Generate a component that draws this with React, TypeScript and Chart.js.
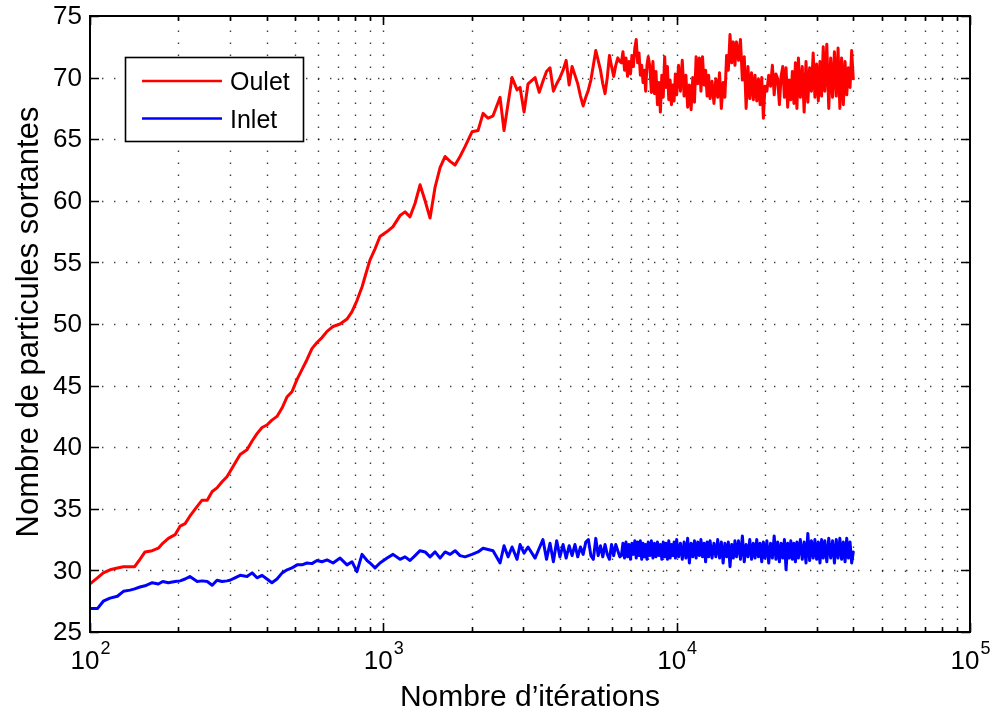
import React, { useEffect, useRef } from 'react';
import { Chart, registerables } from 'chart.js';

Chart.register(...registerables);

// ---------- data ----------
const iterations = [
  // 100 .. 3300
  100, 106, 111, 117, 124, 130, 137, 142, 148, 154,
  163, 171, 177, 185, 195, 203, 211, 219, 232, 241,
  251, 261, 271, 282, 293, 300, 312, 325, 343, 357,
  371, 386, 401, 417, 434, 452, 470, 488, 508, 528,
  549, 571, 594, 618, 643, 674, 712, 752, 782, 813,
  846, 880, 901, 937, 974, 1030, 1079, 1140, 1186, 1233,
  1283, 1334, 1388, 1443, 1501, 1561, 1624, 1689, 1756, 1826,
  1899, 2006, 2103, 2188, 2275, 2366, 2500, 2579, 2662, 2747,
  2857, 2925, 3018, 3114, 3291,
  // 3400 .. 6400
  3400, 3500, 3600, 3700, 3800, 3900, 4000, 4100, 4200, 4300,
  4400, 4500, 4600, 4700, 4800, 4900, 5000, 5100, 5200, 5300,
  5400, 5500, 5600, 5700, 5800, 5900, 6000, 6100, 6200, 6300, 6400,
  // 6480 .. 8000
  6480, 6560, 6640, 6720, 6800, 6880, 6960, 7040, 7120, 7200,
  7280, 7360, 7440, 7520, 7600, 7680, 7760, 7840, 7920, 8000,
  // 8100 .. 10000
  8100, 8200, 8300, 8400, 8500, 8600, 8700, 8800, 8900, 9000,
  9100, 9200, 9300, 9400, 9500, 9600, 9700, 9800, 9900, 10000,
  // 10150 .. 13000
  10150, 10300, 10450, 10600, 10750, 10900, 11050, 11200, 11350, 11500,
  11650, 11800, 11950, 12100, 12250, 12400, 12550, 12700, 12850, 13000,
  // 13200 .. 16000
  13200, 13400, 13600, 13800, 14000, 14200, 14400, 14600, 14800, 15000,
  15200, 15400, 15600, 15800, 16000,
  // 16250 .. 20000
  16250, 16500, 16750, 17000, 17250, 17500, 17750, 18000, 18250, 18500,
  18750, 19000, 19250, 19500, 19750, 20000,
  // 20300 .. 26000
  20300, 20600, 20900, 21200, 21500, 21800, 22100, 22400, 22700, 23000,
  23300, 23600, 23900, 24200, 24500, 24800, 25100, 25400, 25700, 26000,
  // 26400 .. 32000
  26400, 26800, 27200, 27600, 28000, 28400, 28800, 29200, 29600, 30000,
  30400, 30800, 31200, 31600, 32000,
  // 32500 .. 40000
  32500, 33000, 33500, 34000, 34500, 35000, 35500, 36000, 36500, 37000,
  37500, 38000, 38500, 39000, 39500, 40000,
];

const outletValues = [
  28.9, 29.4, 29.8, 30.05, 30.2, 30.3, 30.3, 30.3, 30.9, 31.5,
  31.6, 31.8, 32.2, 32.6, 32.9, 33.6, 33.8, 34.4, 35.2, 35.7,
  35.7, 36.4, 36.7, 37.2, 37.6, 38.0, 38.7, 39.4, 39.8, 40.5,
  41.1, 41.6, 41.8, 42.2, 42.5, 43.2, 44.1, 44.5, 45.5, 46.3,
  47.1, 48.0, 48.5, 48.9, 49.4, 49.8, 50.0, 50.4, 51.0, 51.9,
  53.0, 54.4, 55.2, 56.1, 57.1, 57.5, 57.9, 58.8, 59.1, 58.7,
  59.8, 61.3, 60.0, 58.6, 61.1, 62.7, 63.6, 63.2, 62.9, 63.6,
  64.4, 65.6, 65.7, 67.1, 66.7, 66.9, 68.4, 65.7, 67.9, 70.0,
  69.0, 69.2, 67.2, 69.5, 70.0,
  68.8, 69.7, 70.5, 70.8, 68.9, 69.5, 70.0, 70.6, 71.4, 69.4,
  70.9, 70.2, 69.5, 68.5, 67.7, 68.4, 69.0, 69.8, 71.0, 72.2,
  71.4, 70.6, 69.5, 68.7, 70.0, 71.8, 70.9, 70.1, 71.0, 71.6, 71.3,
  71.2, 72.1, 70.6, 71.6, 70.1, 71.3, 70.3, 71.8, 70.9, 72.4,
  73.1, 71.2, 72.0, 70.2, 71.0, 69.6, 70.6, 68.9, 71.0, 71.7,
  70.9, 68.8, 71.3, 68.7, 70.5, 67.8, 69.6, 67.2, 70.2, 68.4,
  71.7, 69.2, 70.9, 68.2, 69.8, 67.8, 69.4, 68.1, 70.3, 68.6,
  71.0, 68.9, 71.4, 68.5, 70.2, 67.6, 69.4, 67.4, 70.0, 68.0,
  71.7, 69.5, 71.6, 68.9, 71.7, 69.4, 70.6, 68.5, 70.2, 68.3,
  69.7, 67.9, 69.9, 68.4, 70.4, 67.5, 69.6, 68.4, 71.8, 70.6,
  73.5, 71.2, 72.9, 71.0, 72.9,
  71.4, 73.1, 69.8, 71.7, 67.5, 70.9, 68.3, 70.4, 68.2, 70.2,
  68.1, 69.9, 67.8, 70.0, 66.7, 69.3,
  68.9, 70.2, 69.3, 71.0, 68.6, 70.3, 69.9, 67.8, 70.1, 70.9,
  68.4, 70.8, 67.6, 69.8, 68.2, 70.5, 67.9, 71.2, 67.5, 71.6,
  68.4, 70.9, 67.2, 71.3, 68.0, 70.8, 68.9, 72.0, 68.4, 71.1,
  68.1, 71.3, 68.5, 72.5, 68.9,
  72.7, 67.5, 71.6, 68.4, 72.1, 68.5, 72.4, 67.5, 71.6, 67.8,
  71.3, 68.6, 70.8, 69.2, 72.2, 69.9,
];

const inletValues = [
  26.9, 26.9, 27.5, 27.75, 27.9, 28.3, 28.4, 28.5, 28.65, 28.75,
  29.0, 28.9, 29.1, 29.0, 29.1, 29.15, 29.3, 29.5, 29.1, 29.15,
  29.1, 28.8, 29.2, 29.1, 29.15, 29.2, 29.4, 29.6, 29.5, 29.8,
  29.4, 29.6, 29.3, 29.0, 29.3, 29.8, 30.05, 30.2, 30.45, 30.45,
  30.6, 30.55, 30.8, 30.7, 30.85, 30.6, 31.0, 30.45, 30.7, 29.9,
  31.3, 30.8, 30.6, 30.2, 30.6, 31.0, 31.3, 30.9, 31.1, 30.8,
  31.2, 31.6, 31.5, 31.1, 31.5, 31.0, 31.5, 31.3, 31.6, 31.2,
  31.1, 31.3, 31.5, 31.8, 31.7, 31.6, 30.6, 32.0, 31.1, 31.9,
  30.9, 32.1, 31.4, 31.9, 31.0,
  31.8, 32.5, 30.9, 32.2, 30.7, 32.4, 31.1, 32.1, 31.0, 32.0,
  31.2, 32.1, 31.1, 31.9, 31.3, 32.3, 32.5, 31.2, 30.9, 32.6,
  31.2, 32.0, 31.1, 32.1, 31.3, 30.9, 32.1, 31.2, 32.1, 31.6, 31.1,
  31.2, 32.2, 31.0, 32.3, 31.1, 32.1, 30.9, 32.2, 31.3, 32.4,
  31.0, 32.3, 31.2, 32.4, 30.9, 32.2, 31.1, 32.1, 30.9, 32.3,
  31.2, 32.4, 31.0, 32.2, 31.1, 32.3, 31.2, 32.1, 30.9, 32.3,
  31.1, 32.2, 30.9, 32.4, 31.0, 32.1, 31.2, 32.3, 31.0, 32.5,
  31.1, 32.2, 30.9, 32.3, 31.0, 32.6, 30.6, 32.2, 31.1, 32.4,
  31.0, 32.3, 31.2, 32.5, 31.1, 32.2, 30.7, 32.3, 31.1, 32.4,
  31.0, 32.2, 31.1, 32.5, 31.0, 32.3, 30.6, 32.2, 31.1, 32.3,
  30.3, 32.1, 31.0, 32.4, 31.1,
  32.4, 30.9, 32.8, 30.7, 32.1, 31.1, 32.5, 30.9, 32.2, 31.0,
  32.5, 31.1, 32.2, 30.7, 32.3, 31.0,
  32.4, 30.6, 32.2, 31.0, 32.8, 30.9, 32.3, 30.7, 32.2, 31.0,
  32.5, 30.05, 32.2, 31.0, 32.4, 30.9, 32.2, 30.7, 32.3, 31.0,
  32.5, 30.9, 32.3, 30.6, 33.0, 30.8, 32.4, 31.0, 32.5, 30.9,
  32.3, 30.6, 32.5, 31.0, 32.4,
  30.7, 32.6, 31.0, 32.4, 30.6, 32.5, 31.0, 32.6, 30.9, 32.3,
  30.7, 32.6, 31.0, 32.3, 30.6, 31.5,
];

const seriesLabels = ['Oulet', 'Inlet'];
const seriesColors = ['#ff0000', '#0000ff'];
const xDecades = [100, 1000, 10000, 100000];
const xExponents = ['2', '3', '4', '5'];
const xMinorMultipliers = [2, 3, 4, 5, 6, 7, 8, 9];
const yTicks = [25, 30, 35, 40, 45, 50, 55, 60, 65, 70, 75];
const xTitle = 'Nombre d\u2019itérations';
const yTitle = 'Nombre de particules sortantes';

const FONT = '"Liberation Sans", Arial, Helvetica, sans-serif';

const matlabAxes = {
  id: 'matlabAxes',
  beforeDatasetsDraw(chart: any) {
    const { ctx, chartArea: a, scales } = chart;
    const x = scales.x;
    const y = scales.y;
    ctx.save();
    ctx.strokeStyle = 'rgba(0,0,0,0.75)';
    ctx.lineWidth = 1.4;
    ctx.setLineDash([1.4, 10.6]);
    const gridX: number[] = [];
    for (let i = 0; i < xDecades.length - 1; i++) {
      if (i > 0) gridX.push(xDecades[i]);
      for (const m of xMinorMultipliers) gridX.push(xDecades[i] * m);
    }
    for (const v of gridX) {
      const px = Math.round(x.getPixelForValue(v)) + 0.5;
      ctx.beginPath();
      ctx.moveTo(px, a.bottom);
      ctx.lineTo(px, a.top);
      ctx.stroke();
    }
    for (const v of yTicks) {
      if (v === yTicks[0] || v === yTicks[yTicks.length - 1]) continue;
      const py = Math.round(y.getPixelForValue(v)) + 0.5;
      ctx.beginPath();
      ctx.moveTo(a.left, py);
      ctx.lineTo(a.right, py);
      ctx.stroke();
    }
    ctx.restore();
  },
  afterDatasetsDraw(chart: any) {
    const { ctx, chartArea: a, scales } = chart;
    const x = scales.x;
    const y = scales.y;
    ctx.save();
    ctx.setLineDash([]);
    ctx.strokeStyle = '#000';
    ctx.lineWidth = 1.6;
    const major = 9;
    const minor = 5;
    ctx.beginPath();
    for (let i = 0; i < xDecades.length; i++) {
      const px = Math.round(x.getPixelForValue(xDecades[i])) + 0.5;
      ctx.moveTo(px, a.bottom); ctx.lineTo(px, a.bottom - major);
      ctx.moveTo(px, a.top); ctx.lineTo(px, a.top + major);
      if (i < xDecades.length - 1) {
        for (const m of xMinorMultipliers) {
          const pm = Math.round(x.getPixelForValue(xDecades[i] * m)) + 0.5;
          ctx.moveTo(pm, a.bottom); ctx.lineTo(pm, a.bottom - minor);
          ctx.moveTo(pm, a.top); ctx.lineTo(pm, a.top + minor);
        }
      }
    }
    for (const v of yTicks) {
      const py = Math.round(y.getPixelForValue(v)) + 0.5;
      ctx.moveTo(a.left, py); ctx.lineTo(a.left + major, py);
      ctx.moveTo(a.right, py); ctx.lineTo(a.right - major, py);
    }
    ctx.stroke();
    ctx.lineWidth = 2;
    ctx.strokeRect(a.left, a.top, a.right - a.left, a.bottom - a.top);

    ctx.fillStyle = '#000';
    ctx.font = `26px ${FONT}`;
    ctx.textAlign = 'right';
    ctx.textBaseline = 'middle';
    for (const v of yTicks) {
      ctx.fillText(String(v), a.left - 8, y.getPixelForValue(v) + 1);
    }
    ctx.textAlign = 'left';
    ctx.textBaseline = 'alphabetic';
    for (let i = 0; i < xDecades.length; i++) {
      const px = x.getPixelForValue(xDecades[i]);
      ctx.font = `26px ${FONT}`;
      const wBase = ctx.measureText('10').width;
      ctx.font = `18px ${FONT}`;
      const wExp = ctx.measureText(xExponents[i]).width;
      const start = px - (wBase + wExp) / 2;
      ctx.font = `26px ${FONT}`;
      ctx.fillText('10', start, 669);
      ctx.font = `18px ${FONT}`;
      ctx.fillText(xExponents[i], start + wBase + 1, 654);
    }

    ctx.font = `30px ${FONT}`;
    ctx.textAlign = 'center';
    ctx.fillText(xTitle, (a.left + a.right) / 2, 706);
    ctx.save();
    ctx.translate(38, (a.top + a.bottom) / 2 - 2);
    ctx.rotate(-Math.PI / 2);
    ctx.font = `31px ${FONT}`;
    ctx.fillText(yTitle, 0, 0);
    ctx.restore();

    const lx = a.left + 35;
    const ly = a.top + 41;
    const lw = 178;
    const lh = 84;
    ctx.fillStyle = '#fff';
    ctx.fillRect(lx, ly, lw, lh);
    ctx.strokeStyle = '#000';
    ctx.lineWidth = 1.6;
    ctx.strokeRect(lx + 0.5, ly + 0.5, lw, lh);
    ctx.font = `25px ${FONT}`;
    ctx.textAlign = 'left';
    ctx.textBaseline = 'alphabetic';
    for (let i = 0; i < seriesLabels.length; i++) {
      const yy = ly + 24 + i * 37.5;
      ctx.strokeStyle = seriesColors[i];
      ctx.lineWidth = 2.6;
      ctx.beginPath();
      ctx.moveTo(lx + 17, yy);
      ctx.lineTo(lx + 97, yy);
      ctx.stroke();
      ctx.fillStyle = '#000';
      ctx.fillText(seriesLabels[i], lx + 105, yy + 9);
    }
    ctx.restore();
  },
};

function toPoints(values: number[]) {
  const n = Math.min(values.length, iterations.length);
  const pts: { x: number; y: number }[] = [];
  for (let i = 0; i < n; i++) pts.push({ x: iterations[i], y: values[i] });
  return pts;
}

export default function App() {
  const canvasRef = useRef<HTMLCanvasElement | null>(null);

  useEffect(() => {
    const canvas = canvasRef.current;
    if (!canvas) return;
    const lineStyle = {
      borderWidth: 3,
      pointRadius: 0,
      fill: false,
      tension: 0,
      borderJoinStyle: 'round',
      borderCapStyle: 'round',
    };
    const chart = new Chart(canvas, {
      type: 'line',
      data: {
        datasets: [
          { label: seriesLabels[0], data: toPoints(outletValues), borderColor: seriesColors[0], ...lineStyle },
          { label: seriesLabels[1], data: toPoints(inletValues), borderColor: seriesColors[1], ...lineStyle },
        ],
      },
      options: {
        responsive: false,
        animation: false,
        devicePixelRatio: 1,
        layout: { padding: { left: 90, right: 22, top: 16, bottom: 81 } },
        plugins: { legend: { display: false }, tooltip: { enabled: false } },
        scales: {
          x: { type: 'logarithmic', min: 100, max: 100000, display: false },
          y: { type: 'linear', min: 25, max: 75, display: false },
        },
      } as any,
      plugins: [matlabAxes],
    } as any);
    return () => chart.destroy();
  }, []);

  return (
    <canvas
      ref={canvasRef}
      width={992}
      height={713}
      style={{ position: 'absolute', left: 0, top: 0, width: 992, height: 713, background: '#fff' }}
    />
  );
}
